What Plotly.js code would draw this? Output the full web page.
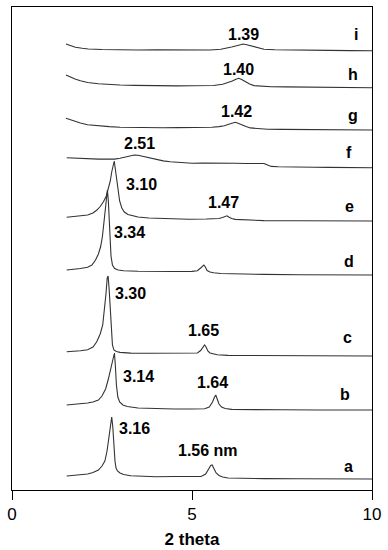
<!DOCTYPE html>
<html>
<head>
<meta charset="utf-8">
<script src="https://cdn.plot.ly/plotly-3.0.1.min.js"></script>
<style>
  html, body { margin: 0; padding: 0; background: #fff; }
  #chart { width: 388px; height: 550px; }
</style>
</head>
<body>
<div id="chart"></div>
<script>
// ---- data: 2 theta (deg) and intensity (a.u.) ----
var sampleNames = ["a", "b", "c", "d", "e", "f", "g", "h", "i"];
var offsets = [11, 80, 134, 215, 269, 322.3, 360, 402.3, 439.3];

var twoTheta_a = [1.52,1.7,1.9,2.1,2.25,2.4,2.5,2.58,2.64,2.69,2.73,2.77,2.80,2.83,2.86,2.89,2.93,3.0,3.1,3.3,3.6,4.0,4.5,5.0,5.25,5.38,5.46,5.52,5.56,5.61,5.67,5.75,5.85,6.0,6.3,7,8,9,10];
var int_a      = [3,3.6,4.2,5,6.5,9,13,18,28,42,55,62,52,32,18,11,8,6,4.5,3.3,2.8,2.3,2.5,2.3,2.5,5,10,13.5,14,10,6,3.5,2,1,0.6,0.4,0.2,0,0];

var twoTheta_b = [1.52,1.7,1.9,2.1,2.25,2.4,2.5,2.6,2.67,2.73,2.78,2.82,2.845,2.87,2.90,2.94,2.99,3.08,3.2,3.5,4,4.5,5,5.35,5.48,5.57,5.62,5.66,5.70,5.75,5.82,5.92,6.1,6.5,7.5,8.5,10];
var int_b      = [5,5.5,6,7,8,10,14,21,30,40,49,55,57,45,25,13,8,5,3.5,2,1.2,1,1,1.2,3,8,12.5,15,11,6,3,1.5,0.6,0.3,0.2,0,0];

var twoTheta_c = [1.52,1.7,1.9,2.1,2.25,2.35,2.45,2.52,2.57,2.61,2.645,2.67,2.70,2.73,2.76,2.79,2.83,2.9,3.0,3.3,3.8,4.5,5.0,5.15,5.24,5.30,5.35,5.39,5.44,5.50,5.58,5.7,6,7,8,9,10];
var int_c      = [4.3,4.6,5.3,6.3,9,14,22,31,45,62,78,80,66,45,25,11,6,4.5,3.6,2.9,2.7,2.6,2.7,3,5.5,8.5,11,9,5,3,2,1.2,0.6,0.3,0.2,0.1,0];

var twoTheta_d = [1.52,1.7,1.9,2.1,2.22,2.32,2.40,2.46,2.51,2.555,2.59,2.62,2.65,2.675,2.70,2.725,2.75,2.79,2.85,2.95,3.1,3.5,4,4.5,5.0,5.15,5.24,5.29,5.33,5.37,5.42,5.5,5.6,5.8,6.2,7,8,9,10];
var int_d      = [5,5.6,6.5,7.7,10,15,21,28,38,53,65,77,85,75,55,35,19,10,6.5,5,4.3,3.7,3.3,3.5,3.6,4.3,7,9,10,8,4.5,3,2.2,1.5,1,0.6,0.3,0.1,0];

var twoTheta_e = [1.52,1.7,1.9,2.1,2.25,2.36,2.45,2.54,2.62,2.68,2.73,2.77,2.81,2.84,2.87,2.91,2.95,2.99,3.05,3.12,3.22,3.35,3.5,3.8,4.2,4.9,5.4,5.75,5.85,5.92,5.97,6.02,6.1,6.2,6.5,7,8,9,10];
var int_e      = [3.7,4.2,5,6,8,11,14.5,19.3,25,32.7,40,49,56,60,52,41,30,20,13,9,6.5,5,4,3,2.5,1.7,2,2.5,3.5,4.8,5.2,4,2.5,1.6,1,0.4,0.2,0,0];

var twoTheta_f = [1.52,1.65,1.8,1.95,2.1,2.25,2.4,2.55,2.7,2.85,3.0,3.1,3.2,3.3,3.4,3.5,3.6,3.7,3.8,3.9,4.0,4.2,4.4,4.6,4.8,5.0,5.3,5.6,5.9,6.2,6.5,6.8,7.0,7.1,7.2,7.4,7.7,8.0,8.4,8.8,9.2,9.6,10];
var int_f      = [10,9.7,9.5,9.1,8.8,8.9,8.6,8.7,8.5,8.6,9.4,10.4,11.4,12.1,12.7,12.4,11.6,10.3,9.4,8.5,7.7,6.8,5.9,5.3,4.9,4.5,4.6,4.3,4.5,4.4,4.2,4.4,4.2,2.6,1.3,0.9,0.6,0.4,0.5,0.3,0.3,0.1,0];

var twoTheta_g = [1.5,1.6,1.75,1.9,2.1,2.4,2.7,3.0,3.4,3.8,4.2,4.6,5.0,5.3,5.55,5.75,5.9,6.02,6.12,6.2,6.28,6.38,6.5,6.62,6.8,7.1,7.5,8,8.5,9,9.5,10];
var int_g      = [11.7,10.4,8.5,7,5.2,4.1,3.4,2.8,2.5,2.4,2.2,2.4,2.3,2.5,2.7,3.4,4.3,5.8,7.2,7.7,6.8,5,3.6,2.1,1.4,0.8,0.6,0.5,0.3,0.3,0.1,0];

var twoTheta_h = [1.5,1.6,1.75,1.9,2.1,2.4,2.7,3.0,3.4,3.8,4.2,4.6,5.0,5.3,5.6,5.85,6.0,6.12,6.22,6.3,6.38,6.48,6.6,6.72,6.9,7.2,7.6,8,8.5,9,9.5,10];
var int_h      = [12.7,11,8.7,7,5.2,4,3.2,2.7,2.3,2.0,2.1,1.8,1.9,1.7,2.2,3.4,4.8,6.6,8.4,9.4,8.2,6,3.8,2.1,1.5,1,0.8,0.6,0.5,0.3,0.2,0];

var twoTheta_i = [1.5,1.62,1.76,1.95,2.12,2.5,3.0,3.5,4.0,4.5,5.0,5.5,5.8,5.96,6.1,6.24,6.34,6.42,6.52,6.62,6.72,6.85,7.0,7.3,7.7,8.2,8.8,9.4,10];
var int_i      = [6.7,5.2,3.4,2.4,1.7,1.2,0.8,0.7,0.8,0.6,0.7,0.7,1.4,2.4,3.7,5,6.1,6.7,6,5,3.8,2.5,1.4,0.9,0.6,0.4,0.3,0.1,0];

// peak labels (d-spacing, nm) and their sample index
var peakLabels = ["3.16","1.56 nm","3.14","1.64","3.30","1.65","3.34","3.10","1.47","2.51","1.42","1.40","1.39"];
var peakLabelSample = [0,0,1,1,2,2,3,4,4,5,6,7,8];

// x tick labels
var xTicks = [0, 5, 10];
var xTickText = ["0", "5", "10"];

// ---- build traces ----
var xs = [twoTheta_a, twoTheta_b, twoTheta_c, twoTheta_d, twoTheta_e, twoTheta_f, twoTheta_g, twoTheta_h, twoTheta_i];
var ys = [int_a, int_b, int_c, int_d, int_e, int_f, int_g, int_h, int_i];

var traces = xs.map(function (x, k) {
  return {
    x: x,
    y: ys[k].map(function (v) { return v + offsets[k]; }),
    type: "scatter",
    mode: "lines",
    line: { color: "#333333", width: 1.1, shape: "linear" },
    hoverinfo: "skip",
    showlegend: false
  };
});

// ---- label placement (pixel centres measured on the figure) ----
var L = 12, T = 7, PW = 360, PH = 483;
function px2x(px) { return (px - L) / PW * 10; }
function py2y(py) { return (T + PH - py); }

var peakPos = [[134.2,428],[207.5,450.5],[138.5,376.8],[212.5,382],[130.8,293.5],[203.5,330.8],
               [129.8,232.8],[141.8,184.2],[223,202.5],[139.2,143.8],[236.7,111.8],[238.8,69],[243.3,34]];
var namePos = [[348,466],[345,394.3],[347.2,337.6],[349,261],[349.5,206],[348.8,152.6],[352.5,115],[352.7,74.3],[356,34.3]];

var annFont = { family: "Liberation Sans, Arial, sans-serif", size: 16, color: "#000", weight: "bold" };
var annotations = [];
peakLabels.forEach(function (t, k) {
  annotations.push({ x: px2x(peakPos[k][0]), y: py2y(peakPos[k][1]), xref: "x", yref: "y",
    text: t, showarrow: false, xanchor: "center", yanchor: "middle", font: annFont });
});
sampleNames.forEach(function (t, k) {
  annotations.push({ x: px2x(namePos[k][0]), y: py2y(namePos[k][1]), xref: "x", yref: "y",
    text: t, showarrow: false, xanchor: "center", yanchor: "middle", font: annFont });
});

var layout = {
  width: 388, height: 550,
  margin: { l: L, r: 388 - L - PW, t: T, b: 550 - T - PH, pad: 0 },
  paper_bgcolor: "#fff", plot_bgcolor: "#fff",
  font: { family: "Liberation Sans, Arial, sans-serif", color: "#000" },
  xaxis: {
    range: [0, 10], tickvals: xTicks, ticktext: xTickText,
    ticks: "outside", ticklen: 9, tickwidth: 1, tickcolor: "#000",
    tickfont: { size: 17, color: "#000" },
    showline: true, mirror: true, linecolor: "#000", linewidth: 1,
    showgrid: false, zeroline: false,
    title: { text: "2 theta", font: { size: 17, color: "#000", weight: "bold" }, standoff: 9 }
  },
  yaxis: {
    range: [0, PH], showticklabels: false, ticks: "",
    showline: true, mirror: true, linecolor: "#000", linewidth: 1,
    showgrid: false, zeroline: false
  },
  annotations: annotations,
  showlegend: false
};

Plotly.newPlot("chart", traces, layout, { displayModeBar: false, staticPlot: true });
</script>
</body>
</html>
